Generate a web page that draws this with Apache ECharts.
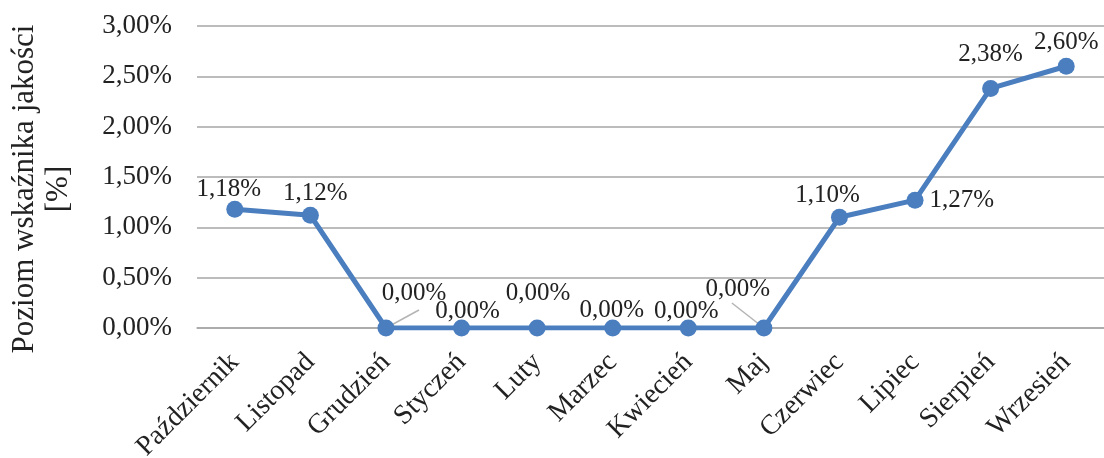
<!DOCTYPE html>
<html>
<head>
<meta charset="utf-8">
<script src="https://cdn.jsdelivr.net/npm/echarts@6/dist/echarts.min.js"></script>
<style>
  html, body { margin: 0; padding: 0; background: #fff; }
  #chart { width: 1104px; height: 458px; }
</style>
</head>
<body>
<div id="chart"></div>
<script>
// miesiące (oś X)
var months = ['Październik', 'Listopad', 'Grudzień', 'Styczeń', 'Luty', 'Marzec',
  'Kwiecień', 'Maj', 'Czerwiec', 'Lipiec', 'Sierpień', 'Wrzesień'];
// poziom wskaźnika jakości [%]
var values = [1.18, 1.12, 0, 0, 0, 0, 0, 0, 1.10, 1.27, 2.38, 2.60];
// przesunięcia etykiet jak w Excelu [dx, dy]
var labelShift = [[-6, 4], [5, 2], [28, -11], [6, 7], [1, -11], [-1, 6],
  [-2, 7], [-26, -15], [-12, 2], [0, 0], [0, -10], [0, 0]];
// linie odniesienia etykiet (Grudzień, Maj) – przesunięcie końca w px
var leaders = { 2: [33, -18], 7: [-32, -25] };

var font = 'Liberation Serif';
var fmt = function (v) { return v.toFixed(2).replace('.', ',') + '%'; };

var seriesData = values.map(function (v, i) {
  var item = { value: v };
  if (i === 9) {
    item.label = { position: 'right', distance: 6 };
  }
  return item;
});

var leaderData = Object.keys(leaders).map(function (k) {
  return [Number(k), values[k]];
});

var chart = echarts.init(document.getElementById('chart'));
chart.setOption({
  animation: false,
  backgroundColor: '#fff',
  grid: { left: 197, right: 0, top: 26, bottom: 130, outerBoundsMode: 'none', containLabel: false },
  xAxis: {
    type: 'category',
    data: months,
    boundaryGap: true,
    axisLine: { lineStyle: { color: '#a6a6a6', width: 1.5 } },
    axisTick: { show: false },
    axisLabel: { rotate: 45, fontFamily: font, fontSize: 28, color: '#222', margin: 30, interval: 0 }
  },
  yAxis: {
    type: 'value',
    min: 0, max: 3, interval: 0.5,
    name: 'Poziom wskaźnika jakości\n[%]',
    nameLocation: 'middle',
    nameRotate: 90,
    nameGap: 121,
    nameTextStyle: { fontFamily: font, fontSize: 31, color: '#222', lineHeight: 34, padding: [0, 24, 0, 0] },
    axisLine: { show: false },
    axisTick: { show: false },
    splitLine: { lineStyle: { color: '#a6a6a6', width: 1.5 } },
    axisLabel: {
      fontFamily: font, fontSize: 27, color: '#222', margin: 25,
      formatter: function (v) { return fmt(v); }
    }
  },
  series: [{
    type: 'custom',
    silent: true,
    z: 1,
    data: leaderData,
    renderItem: function (params, api) {
      var p = api.coord([api.value(0), api.value(1)]);
      var off = leaders[api.value(0)];
      return {
        type: 'line',
        shape: { x1: p[0], y1: p[1], x2: p[0] + off[0], y2: p[1] + off[1] },
        style: { stroke: '#b4b4b4', lineWidth: 1.5 }
      };
    }
  }, {
    type: 'line',
    z: 2,
    data: seriesData,
    symbol: 'circle',
    symbolSize: 17,
    itemStyle: { color: '#4a7ebf' },
    lineStyle: { color: '#4a7ebf', width: 5 },
    label: {
      show: true, position: 'top', distance: 3,
      fontFamily: font, fontSize: 25, color: '#222',
      formatter: function (p) { return fmt(p.value); }
    },
    labelLayout: function (p) {
      var s = labelShift[p.dataIndex];
      return { dx: s[0], dy: s[1] };
    }
  }]
});
</script>
</body>
</html>
